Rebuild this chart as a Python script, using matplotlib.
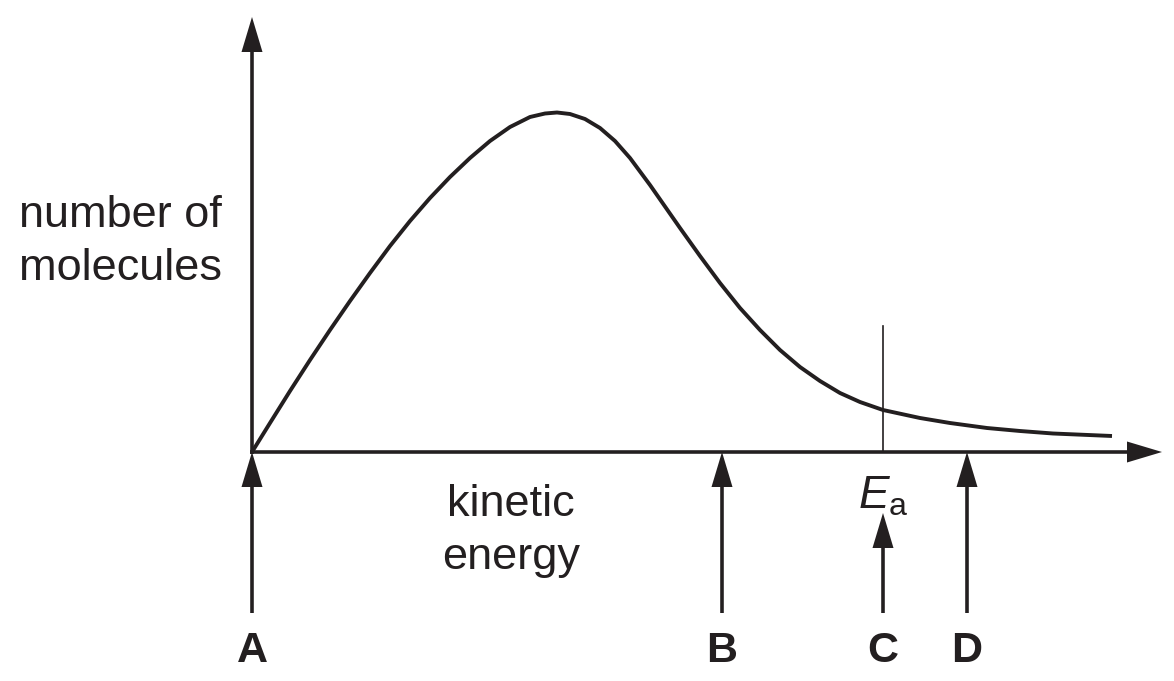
import numpy as np
import matplotlib.pyplot as plt

plt.rcParams['font.family'] = ['Liberation Sans', 'DejaVu Sans']
plt.rcParams['mathtext.fontset'] = 'custom'
plt.rcParams['mathtext.rm'] = 'Liberation Sans'
plt.rcParams['mathtext.it'] = 'Liberation Sans:italic'

ink = '#231f20'

# distribution curve (energy, number of molecules)
energy = [0, 18, 38, 58, 78, 98, 118, 138, 158, 178, 198, 218, 238, 258, 278,
          293, 305, 318, 333, 348, 363, 378, 398, 413, 428, 448, 468, 488, 508,
          528, 548, 568, 588, 608, 631, 668, 698, 735, 768, 801, 860]
number = [0, 29, 61, 92, 122, 151, 179, 206, 231, 254, 275, 294, 311, 325, 335,
          338.5, 339.5, 338, 333, 324, 311, 294, 267, 245.5, 224, 196, 169, 144,
          122, 102, 85, 71, 59, 50, 42, 34, 29, 24, 21, 18.5, 16]

ea = 631            # activation energy
ea_height = 126     # top of the Ea marker line
x_end, y_end = 910, 435   # axis arrow tips

labels = ['A', 'B', 'C', 'D']
label_x = [0, 470, 631, 715]
arrow_top = [0, 0, -61, 0]
arrow_bottom = -161

fig = plt.figure(figsize=(11.74, 6.81), dpi=100)
ax = fig.add_axes([0, 0, 1, 1])
ax.set_xlim(-252, 922)
ax.set_ylim(-229, 452)
ax.axis('off')

def arrow(x0, y0, x1, y1):
    ax.arrow(x0, y0, x1 - x0, y1 - y0, width=3.6, head_width=21,
             head_length=35, length_includes_head=True, fc=ink, ec='none')

# axes
arrow(0, -2, 0, y_end)
arrow(-2, 0, x_end, 0)

ax.plot(energy, number, color=ink, lw=2.8, solid_capstyle='butt',
        solid_joinstyle='round')
ax.plot([ea, ea], [0, ea_height], color=ink, lw=1.2)

for lab, x, top in zip(labels, label_x, arrow_top):
    arrow(x, arrow_bottom, x, top)
    ax.text(x, -199, lab, fontsize=31, fontweight='bold', color=ink,
            ha='center', va='center')

ax.text(-132, 210, 'number of\nmolecules', fontsize=32.5, color=ink,
        ha='center', va='center', linespacing=1.4)
ax.text(259, -79, 'kinetic\nenergy', fontsize=32.5, color=ink,
        ha='center', va='center', linespacing=1.4)
ax.text(ea, -44, r'$E_\mathrm{a}$', fontsize=33, color=ink,
        ha='center', va='center')

plt.savefig('out.png')
